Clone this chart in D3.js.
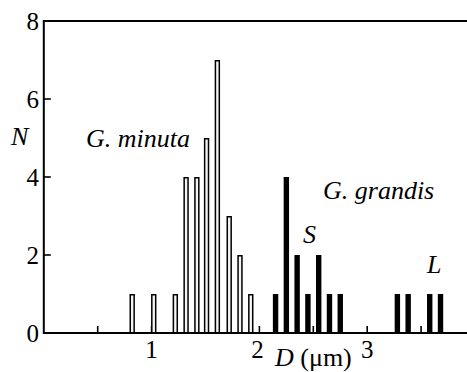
<!DOCTYPE html>
<html>
<head>
<meta charset="utf-8">
<script src="https://cdn.jsdelivr.net/npm/d3@7"></script>
</head>
<body style="margin:0;background:#fff">
<svg id="chart" width="467" height="372" style="display:block"></svg>
<script>
// bin centres (µm) and counts
const minutaD = [0.82, 1.02, 1.22, 1.32, 1.42, 1.51, 1.61, 1.72, 1.82, 1.92];
const minutaN = [1, 1, 1, 4, 4, 5, 7, 3, 2, 1];
const grandisD = [2.15, 2.25, 2.35, 2.45, 2.55, 2.65, 2.75, 3.28, 3.38, 3.58, 3.68];
const grandisN = [1, 4, 2, 1, 2, 1, 1, 1, 1, 1, 1];
const yTicks = [0, 2, 4, 6, 8];
const xTicks = [0.5, 1, 1.5, 2, 2.5, 3, 3.5];
const xLabels = [1, 2, 3];

const FONT = '"Liberation Serif"';
const svg = d3.select('#chart');
const padL = 43.8, padT = 21, baseY = 333;

const x = d3.scaleLinear().domain([0, 4]).range([padL, padL + 431.2]);
const y = d3.scaleLinear().domain([0, 8]).range([baseY, padT]);
const barW = x(0.05) - x(0);

const minuta = minutaD.map((d, i) => ({ d, n: minutaN[i] }));
const grandis = grandisD.map((d, i) => ({ d, n: grandisN[i] }));

// ─── inward ticks ───
svg.append('g').selectAll('line')
  .data(xTicks).enter().append('line')
  .attr('x1', d => x(d)).attr('x2', d => x(d))
  .attr('y1', baseY).attr('y2', baseY - 7)
  .attr('stroke', '#000').attr('stroke-width', 1.6);

svg.append('g').selectAll('line')
  .data(yTicks).enter().append('line')
  .attr('x1', padL).attr('x2', padL + 7)
  .attr('y1', d => y(d)).attr('y2', d => y(d))
  .attr('stroke', '#000').attr('stroke-width', 1.6);

// ─── bars ───
svg.append('g').selectAll('rect')
  .data(minuta).enter().append('rect')
  .attr('x', d => x(d.d) - barW / 2 + 0.75)
  .attr('y', d => y(d.n) + 0.75)
  .attr('width', barW - 1.5)
  .attr('height', d => y(0) - y(d.n) - 0.75)
  .attr('fill', '#f4f4f4')
  .attr('stroke', '#000').attr('stroke-width', 1.5);

svg.append('g').selectAll('rect')
  .data(grandis).enter().append('rect')
  .attr('x', d => x(d.d) - barW / 2)
  .attr('y', d => y(d.n))
  .attr('width', barW)
  .attr('height', d => y(0) - y(d.n))
  .attr('fill', '#000');

// ─── frame: left, top, bottom (open on the right, runs off the page) ───
svg.append('path')
  .attr('d', `M${x(4) + 5},${padT}H${padL}V${baseY}H${x(4) + 5}`)
  .attr('fill', 'none').attr('stroke', '#000').attr('stroke-width', 2);

// ─── tick labels ───
svg.append('g').selectAll('text')
  .data(yTicks).enter().append('text')
  .attr('font-family', FONT).attr('font-size', 25)
  .attr('x', 39).attr('y', d => y(d) + 8.5)
  .attr('text-anchor', 'end')
  .text(d => d);

svg.append('g').selectAll('text')
  .data(xLabels).enter().append('text')
  .attr('font-family', FONT).attr('font-size', 25)
  .attr('x', d => x(d) - (d === 2 ? 2 : 0)).attr('y', 358)
  .attr('text-anchor', 'middle')
  .text(d => d);

// ─── axis titles + annotations ───
function note(txt, px, py) {
  svg.append('text')
    .attr('font-family', FONT).attr('font-size', 26).attr('font-style', 'italic')
    .attr('x', px).attr('y', py).text(txt);
}
note('N', 11, 145);

const xt = svg.append('text')
  .attr('font-family', FONT).attr('font-size', 26)
  .attr('x', 275).attr('y', 366);
xt.append('tspan').attr('font-style', 'italic').text('D');
xt.append('tspan').text(' (\u03bcm)');

note('G. minuta', 86, 147);
note('G. grandis', 323, 199);
note('S', 303, 243);
note('L', 427, 273);
</script>
</body>
</html>
